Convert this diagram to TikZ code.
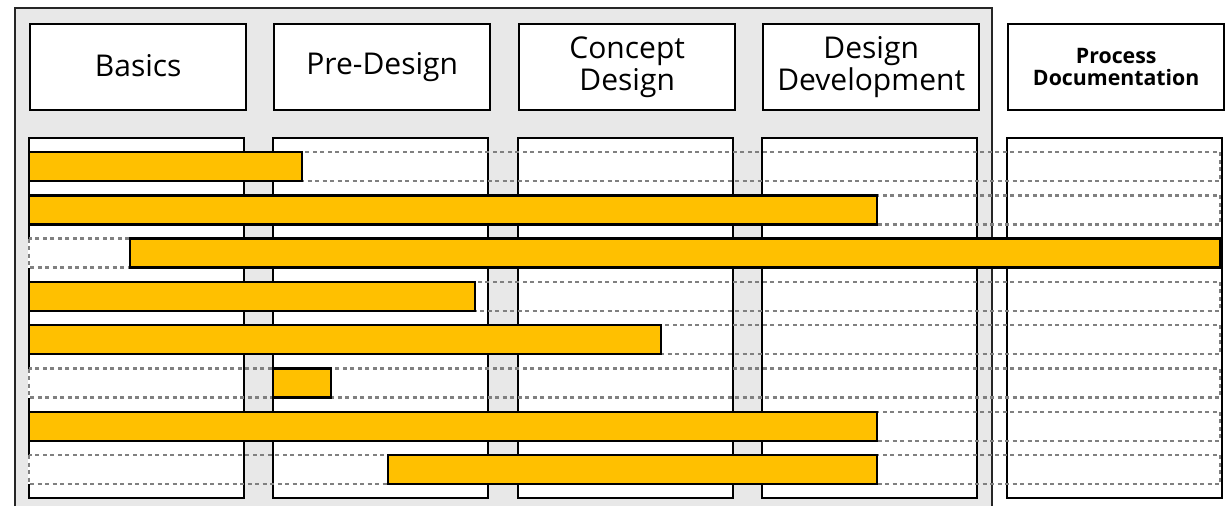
\documentclass[tikz,border=0pt]{standalone}
\usepackage{fontspec}
\setmainfont{Open Sans}
\begin{document}
\begin{tikzpicture}[x=1pt,y=-1pt,
  hdr/.style={draw=black,line width=2.4pt,fill=white,minimum width=216pt,minimum height=86pt,inner sep=0pt,anchor=north west,align=center,font=\fontsize{30}{32}\selectfont},
  hdrsmall/.style={hdr,font=\bfseries\fontsize{21.3}{22}\selectfont},
  colbox/.style={draw=black,line width=2.4pt,fill=white},
  rowline/.style={draw=dashgray,line width=2.4pt,dash pattern=on 4pt off 3.5pt},
  bar/.style={draw=black,line width=2.4pt,fill=gold}]
\definecolor{panelgray}{HTML}{E8E8E8}
\definecolor{dashgray}{HTML}{808080}
\definecolor{gold}{HTML}{FFC000}
\useasboundingbox (0,0) rectangle (1228,506);
\fill[white] (0,0) rectangle (1228,506);
% panel
\fill[panelgray] (15,8) rectangle (992,506);
\draw[line width=1.8pt,draw=black!85] (15,506) -- (15,8) -- (992,8) -- (992,506);
% headers
\node[hdr] (basics) at (29,23) {\raisebox{3pt}{Basics}};
\node[hdr] (pre) at (273,23) {\raisebox{2pt}{Pre-Design}};
\node[hdr] (concept) at (518,23) {Concept\\Design};
\node[hdr] (devel) at (762,23) {Design\\Development};
\node[hdrsmall] (proc) at (1007,23) {Process\\Documentation};
% column boxes
\foreach \x in {29,273,518,762,1007}{
  \draw[colbox] (\x,138) rectangle ++(215,360);
}
% rows
\foreach \t in {152,195.3,238.6,281.9,325.2,368.5,411.8,455.1}{
  \draw[white,line width=3pt] (29,\t) -- ++(0,29);
  \draw[rowline] (29,\t) rectangle (1220,\t+29);
}
% bars
\draw[bar] (29,152) rectangle (302,181);
\draw[bar] (29,195.3) rectangle (877,224.3);
\draw[bar] (130,238.6) rectangle (1220,267.6);
\draw[bar] (29,281.9) rectangle (475,310.9);
\draw[bar] (29,325.2) rectangle (661,354.2);
\draw[bar] (273,368.5) rectangle (331,397.5);
\draw[bar] (29,411.8) rectangle (877,440.8);
\draw[bar] (388,455.1) rectangle (877,484.1);
\end{tikzpicture}
\end{document}
